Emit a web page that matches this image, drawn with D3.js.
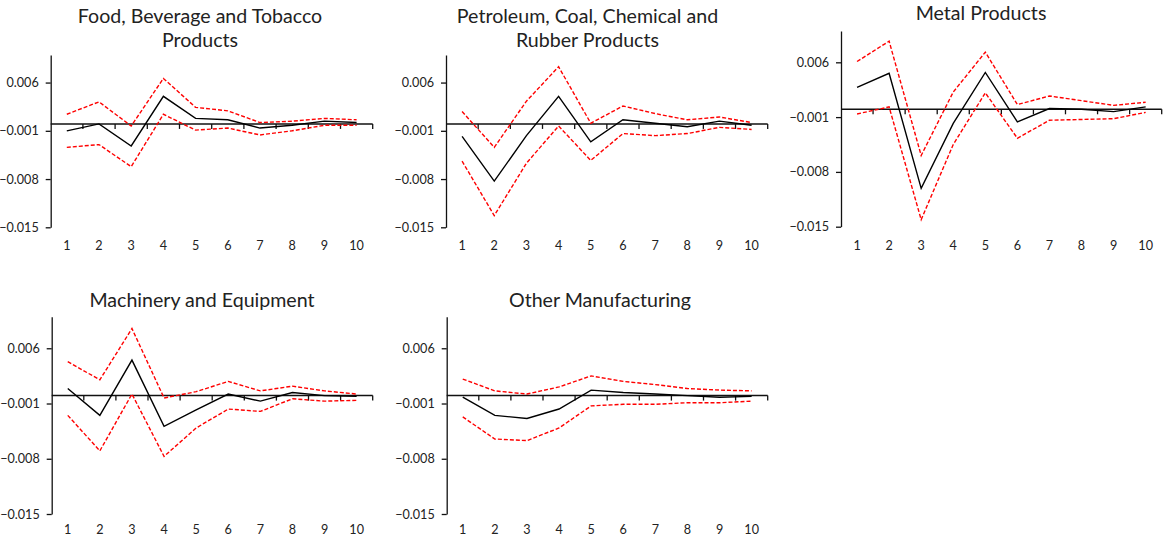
<!DOCTYPE html>
<html>
<head>
<meta charset="utf-8">
<script src="https://cdn.jsdelivr.net/npm/d3@7"></script>
<style>
  body { margin: 0; background: #fff; }
  text { font-family: Lato, "Open Sans", sans-serif; fill: #222; }
</style>
</head>
<body>
<svg id="chart" width="1164" height="537"></svg>
<script>
// horizons 1..10
var periods = [1, 2, 3, 4, 5, 6, 7, 8, 9, 10];
var yTicks = [0.006, -0.001, -0.008, -0.015];

var foodIrf   = [-0.0010, 0.0000, -0.0032, 0.0040, 0.0008, 0.0006, -0.0006, -0.0002, 0.0004, 0.0002];
var foodUpper = [0.0014, 0.0032, -0.0003, 0.0066, 0.0024, 0.0019, 0.0002, 0.0004, 0.0008, 0.0006];
var foodLower = [-0.0034, -0.0030, -0.0062, 0.0014, -0.0009, -0.0006, -0.0016, -0.0010, -0.0002, -0.0002];

var petroIrf   = [-0.0018, -0.0083, -0.0017, 0.0040, -0.0026, 0.0006, 0.0001, -0.0004, 0.0004, -0.0002];
var petroUpper = [0.0018, -0.0034, 0.0033, 0.0083, 0.0001, 0.0026, 0.0015, 0.0006, 0.0010, 0.0002];
var petroLower = [-0.0054, -0.0133, -0.0057, -0.0003, -0.0053, -0.0014, -0.0017, -0.0014, -0.0005, -0.0008];

var metalIrf   = [0.0028, 0.0046, -0.0101, -0.0018, 0.0047, -0.0016, 0.0001, 0.0000, -0.0003, 0.0003];
var metalUpper = [0.0061, 0.0087, -0.0059, 0.0022, 0.0073, 0.0006, 0.0017, 0.0011, 0.0005, 0.0009];
var metalLower = [-0.0006, 0.0003, -0.0141, -0.0045, 0.0021, -0.0037, -0.0014, -0.0013, -0.0012, -0.0004];

var machIrf   = [0.0009, -0.0025, 0.0045, -0.0039, -0.0018, 0.0002, -0.0007, 0.0004, 0.0000, -0.0001];
var machUpper = [0.0043, 0.0020, 0.0085, -0.0003, 0.0005, 0.0018, 0.0006, 0.0012, 0.0006, 0.0002];
var machLower = [-0.0025, -0.0070, 0.0002, -0.0077, -0.0041, -0.0017, -0.0020, -0.0004, -0.0007, -0.0006];

var otherIrf   = [-0.0002, -0.0025, -0.0029, -0.0017, 0.0007, 0.0004, 0.0002, 0.0000, -0.0002, -0.0001];
var otherUpper = [0.0021, 0.0006, 0.0002, 0.0011, 0.0025, 0.0018, 0.0014, 0.0009, 0.0007, 0.0006];
var otherLower = [-0.0027, -0.0055, -0.0057, -0.0041, -0.0013, -0.0011, -0.0011, -0.0009, -0.0009, -0.0007];

var svg = d3.select("#chart");

var panels = [
  { title: ["Food, Beverage and Tobacco", "Products"], tx: 200, ty: 23,
    x0: 50.7, x1: 372.7, y0: 55, y1: 227.3, labY: 249.8,
    irf: foodIrf, upper: foodUpper, lower: foodLower },
  { title: ["Petroleum, Coal, Chemical and", "Rubber Products"], tx: 587.5, ty: 23,
    x0: 446, x1: 767.7, y0: 55, y1: 227.3, labY: 249.8,
    irf: petroIrf, upper: petroUpper, lower: petroLower },
  { title: ["Metal Products"], tx: 981, ty: 19.5,
    x0: 841, x1: 1161.7, y0: 31, y1: 226.7, labY: 249.8,
    irf: metalIrf, upper: metalUpper, lower: metalLower },
  { title: ["Machinery and Equipment"], tx: 202, ty: 307,
    x0: 51.7, x1: 372.7, y0: 316.7, y1: 514, labY: 533.5,
    irf: machIrf, upper: machUpper, lower: machLower },
  { title: ["Other Manufacturing"], tx: 600, ty: 307,
    x0: 446.7, x1: 767.7, y0: 316.7, y1: 514, labY: 533.5,
    irf: otherIrf, upper: otherUpper, lower: otherLower }
];

panels.forEach(function (p) {
  var g = svg.append("g");

  var x = d3.scaleBand().domain(periods).range([p.x0, p.x1]);
  var y = d3.scaleLinear().domain([-0.015, 0.01]).range([p.y1, p.y0]);

  // title
  p.title.forEach(function (t, i) {
    g.append("text")
      .attr("x", p.tx)
      .attr("y", p.ty + i * 24)
      .attr("text-anchor", "middle")
      .style("font-size", "19.6px")
      .text(t);
  });

  // y axis
  var yAxis = d3.axisLeft(y).tickValues(yTicks).tickFormat(d3.format(".3f")).tickSize(5).tickSizeOuter(0);
  var ya = g.append("g").attr("transform", "translate(" + p.x0 + ",0)").call(yAxis);
  ya.select(".domain").attr("stroke", "#111").attr("stroke-width", 1.3);
  ya.selectAll(".tick line").attr("stroke", "#111").attr("stroke-width", 1.3);
  ya.selectAll(".tick text")
    .attr("x", -12)
    .style("font-size", "12.6px")
    .style("font-family", "Lato, sans-serif")
    .attr("fill", "#222");

  // zero line with category-boundary ticks
  var zy = y(0);
  g.append("line")
    .attr("x1", p.x0).attr("x2", p.x1)
    .attr("y1", zy).attr("y2", zy)
    .attr("stroke", "#111").attr("stroke-width", 1.5);
  var bounds = periods.map(function (d) { return x(d) + x.bandwidth(); });
  g.selectAll(".bt").data(bounds).enter().append("line")
    .attr("x1", function (d) { return d; })
    .attr("x2", function (d) { return d; })
    .attr("y1", zy).attr("y2", zy + 5)
    .attr("stroke", "#111").attr("stroke-width", 1.3);

  // category labels at the bottom
  g.selectAll(".cl").data(periods).enter().append("text")
    .attr("x", function (d) { return x(d) + x.bandwidth() / 2; })
    .attr("y", p.labY)
    .attr("text-anchor", "middle")
    .style("font-size", "12.6px")
    .text(function (d) { return d; });

  var line = d3.line()
    .x(function (d, i) { return x(periods[i]) + x.bandwidth() / 2; })
    .y(function (d) { return y(d); });

  [p.upper, p.lower].forEach(function (s) {
    g.append("path")
      .datum(s)
      .attr("d", line)
      .attr("fill", "none")
      .attr("stroke", "#ff0000")
      .attr("stroke-width", 1.4)
      .attr("stroke-dasharray", "4,2");
  });

  g.append("path")
    .datum(p.irf)
    .attr("d", line)
    .attr("fill", "none")
    .attr("stroke", "#000")
    .attr("stroke-width", 1.4);
});
</script>
</body>
</html>
